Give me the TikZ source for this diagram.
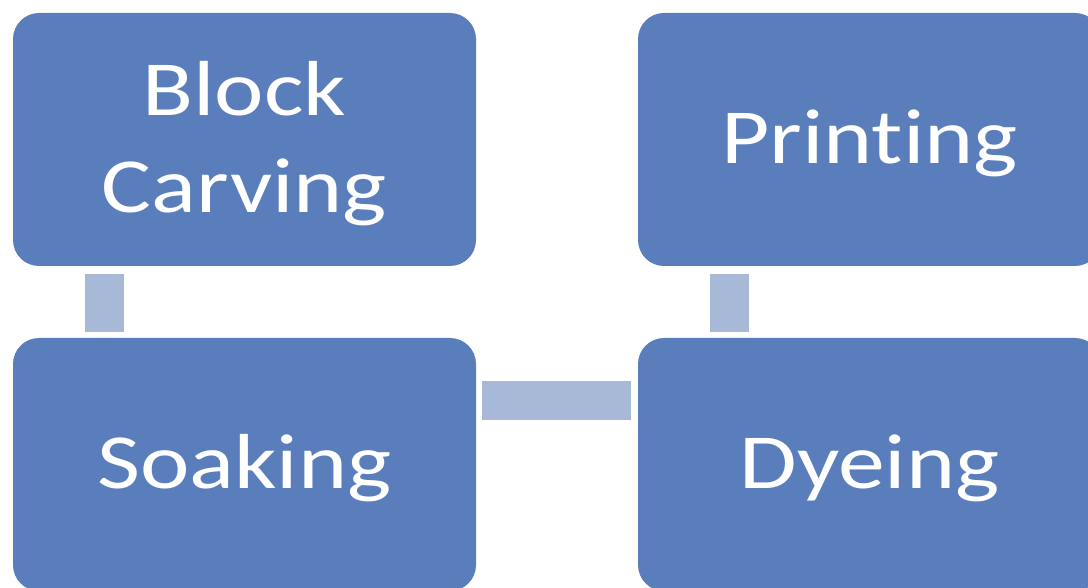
\documentclass[tikz,border=0pt]{standalone}
\usepackage{fontspec}
\setmainfont{Carlito}[FakeStretch=1.2, Ligatures=NoCommon]
\usetikzlibrary{calc}
\definecolor{boxblue}{RGB}{90,126,187}
\definecolor{barblue}{RGB}{168,185,215}
\newcommand{\boxlbl}[1]{\raisebox{-5pt}[\height][\depth]{\begin{tabular}{@{}c@{}}#1\end{tabular}}}
\begin{document}
\begin{tikzpicture}[x=1pt,y=-1pt,
  stepbox/.style={rectangle, rounded corners=26pt, fill=boxblue, draw=none,
    minimum width=463pt, minimum height=253pt, inner sep=0pt,
    text=white, font=\fontsize{78}{97}\selectfont},
  bar/.style={draw=barblue, line width=39pt}]
\useasboundingbox (0,0) rectangle (1088,588);
\clip (0,0) rectangle (1088,588);
\fill[white] (0,0) rectangle (1088,588);
\node[stepbox] (bc) at (244.5,139.5) {\boxlbl{Block\\Carving}};
\node[stepbox] (pr) at (869.5,139.5) {\boxlbl{Printing}};
\node[stepbox] (so) at (244.5,464.5) {\boxlbl{Soaking}};
\node[stepbox] (dy) at (869.5,464.5) {\boxlbl{Dyeing}};
\draw[bar, shorten <=8pt, shorten >=6pt] ($(bc.south west)+(92,0)$) -- ($(so.north west)+(92,0)$);
\draw[bar, shorten <=8pt, shorten >=6pt] ($(pr.south west)+(92,0)$) -- ($(dy.north west)+(92,0)$);
\draw[bar, shorten <=6pt, shorten >=7pt] ($(so.north east)+(0,63)$) -- ($(dy.north west)+(0,63)$);
\end{tikzpicture}
\end{document}
